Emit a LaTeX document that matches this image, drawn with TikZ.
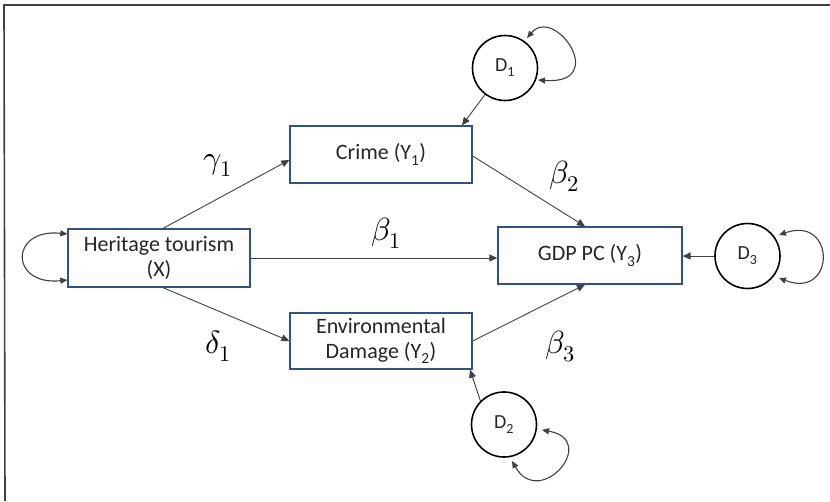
\documentclass[tikz,border=0pt]{standalone}
\usepackage{fontspec}
\usepackage{unicode-math}
\setmainfont{Carlito}
\setmathfont{Latin Modern Math}
\usetikzlibrary{arrows.meta}
\definecolor{boxblue}{HTML}{2F528F}
\definecolor{linegray}{HTML}{404040}
\definecolor{txt}{HTML}{262626}
\tikzset{
  varbox/.style={draw=boxblue, line width=1.3pt, fill=white, text=txt, align=center,
    font=\fontsize{22}{25}\selectfont, inner sep=0pt},
  distc/.style={circle, draw=black, line width=1.6pt, minimum size=65pt, inner sep=0pt, text=txt,
    font=\fontsize{20}{22}\selectfont},
  conn/.style={draw=linegray, line width=0.9pt, -{Triangle[length=8pt,width=7pt]}},
  loopc/.style={draw=linegray, line width=1.1pt, {Triangle[length=7pt,width=6pt]}-{Triangle[length=7pt,width=6pt]}},
  coef/.style={text=black, font=\fontsize{32}{34}\selectfont, inner sep=0pt},
  frameline/.style={draw=black!75, line width=1.6pt}
}
\begin{document}
\begin{tikzpicture}[x=1pt, y=-1pt]
\useasboundingbox (0,0) rectangle (830,501);
\coordinate (fa) at (4,5);
\coordinate (fb) at (830,5);
\coordinate (fc) at (5,501);
\draw[frameline] (fb) -- (fa) -- (fc);

\node[varbox, minimum width=182pt, minimum height=58pt] (X) at (159,258) {Heritage tourism\\(X)};
\node[varbox, minimum width=182pt, minimum height=57pt] (C) at (381,154.5) {Crime (Y\textsubscript{1})};
\node[varbox, minimum width=182pt, minimum height=56pt] (E) at (381,341) {Environmental\\Damage (Y\textsubscript{2})};
\node[varbox, minimum width=184pt, minimum height=57pt] (G) at (590,255.5) {GDP PC (Y\textsubscript{3})};

\node[distc] (D1) at (505,68) {D\textsubscript{1}};
\node[distc] (D2) at (504,424.5) {D\textsubscript{2}};
\node[distc] (D3) at (747.5,256) {D\textsubscript{3}};

% paths
\draw[conn] ([xshift=4pt]X.north) -- ([yshift=-5.5pt]C.west);
\draw[conn] ([xshift=4pt]X.south) -- (E.west);
\draw[conn] (X.east) -- (X.east -| G.west);
\draw[conn] ([yshift=-1.5pt]C.east) -- ([xshift=-5pt]G.north);
\draw[conn] (E.east) -- ([xshift=-5pt]G.south);
\draw[conn] (D1.233) -- ([xshift=81pt]C.north);
\draw[conn] (D2.135) -- ([xshift=89pt]E.south);
\draw[conn] (D3.west) -- (D3.west -| G.east);

% self loops
\draw[loopc] ([yshift=24pt]X.west) .. controls +(-58,-6) and +(-58,6) .. ([yshift=-22pt]X.west);
\coordinate (d1a) at (527,38);
\coordinate (d1b) at (538,80);
\draw[loopc] (d1a) .. controls +(28,-33) and +(72,5) .. (d1b);
\coordinate (d2a) at (542,430);
\coordinate (d2b) at (512,461);
\draw[loopc] (d2a) .. controls +(58,10) and +(28,49) .. (d2b);
\coordinate (d3a) at (779,235);
\coordinate (d3b) at (779,278);
\draw[loopc] (d3a) .. controls +(57,-20) and +(57,22) .. (d3b);

% coefficients
\node[coef] (g1) at (218,165) {$\gamma_1$};
\node[coef] (b2) at (564,176) {$\beta_2$};
\node[coef] (b1) at (386,233) {$\beta_1$};
\node[coef] (d1) at (218,346) {$\delta_1$};
\node[coef] (b3) at (560,346) {$\beta_3$};
\end{tikzpicture}
\end{document}
